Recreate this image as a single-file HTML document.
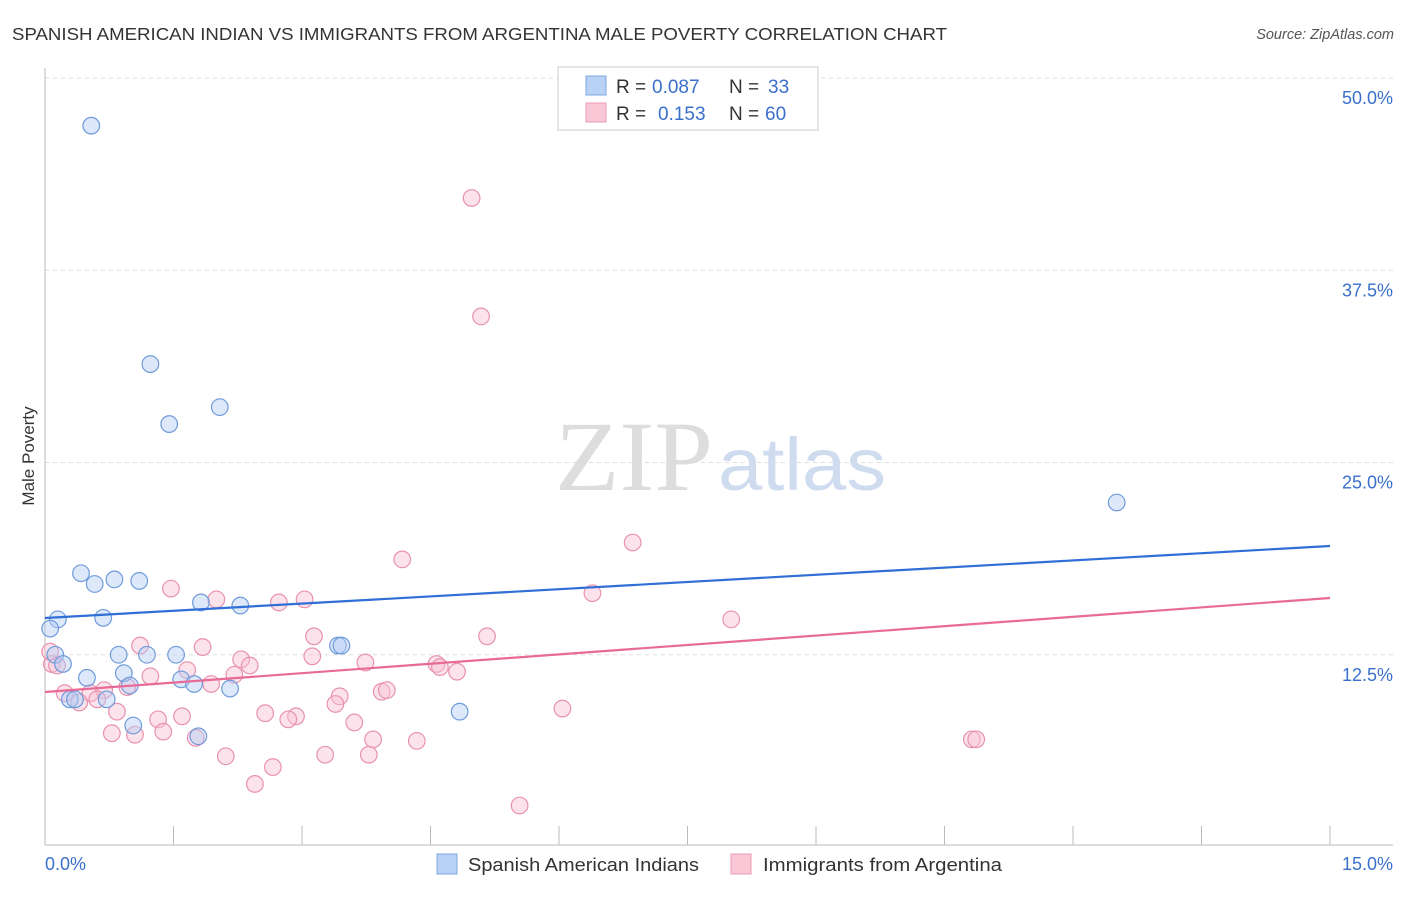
<!DOCTYPE html>
<html><head><meta charset="utf-8">
<style>
body{margin:0;background:#fff;}
</style></head>
<body>
<svg id="chart" width="1406" height="892" xmlns="http://www.w3.org/2000/svg" font-family="Liberation Sans, sans-serif">
<text x="12" y="40" font-size="17.5" fill="#333" textLength="935" lengthAdjust="spacingAndGlyphs">SPANISH AMERICAN INDIAN VS IMMIGRANTS FROM ARGENTINA MALE POVERTY CORRELATION CHART</text>
<text x="1394" y="39" font-size="14.5" fill="#555" font-style="italic" text-anchor="end">Source: ZipAtlas.com</text>
<g>
<text x="555" y="490" font-size="100" fill="#ddd" style="font-family:'Liberation Serif',serif" textLength="158" lengthAdjust="spacingAndGlyphs">ZIP</text>
<text x="718" y="490" font-size="74" fill="#cfdcf0" textLength="168" lengthAdjust="spacingAndGlyphs">atlas</text>
</g>
<g id="grid"></g>
<g id="axes"></g>
<g id="marks"></g>
<text transform="translate(34,456) rotate(-90)" font-size="17" fill="#333" text-anchor="middle">Male Poverty</text>
<g>
<rect x="558" y="67" width="260" height="63" fill="#fff" stroke="#ccc"/>
<rect x="586" y="76" width="20" height="19" fill="#b9d1f5" stroke="#7fa6e0"/>
<rect x="586" y="103" width="20" height="19" fill="#f9c7d6" stroke="#eb9ab4"/>
<text x="616" y="93" font-size="19" fill="#333">R =</text>
<text x="652" y="93" font-size="19" fill="#3a70cc">0.087</text>
<text x="729" y="93" font-size="19" fill="#333">N =</text>
<text x="768" y="93" font-size="19" fill="#3a70cc">33</text>
<text x="616" y="120" font-size="19" fill="#333">R =</text>
<text x="658" y="120" font-size="19" fill="#3a70cc">0.153</text>
<text x="729" y="120" font-size="19" fill="#333">N =</text>
<text x="765" y="120" font-size="19" fill="#3a70cc">60</text>
</g>
<g>
<rect x="437" y="854" width="20" height="20" fill="#b9d1f5" stroke="#7fa6e0"/>
<text x="468" y="871" font-size="18" fill="#333" textLength="231" lengthAdjust="spacingAndGlyphs">Spanish American Indians</text>
<rect x="731" y="854" width="20" height="20" fill="#f9c7d6" stroke="#eb9ab4"/>
<text x="763" y="871" font-size="18" fill="#333" textLength="239" lengthAdjust="spacingAndGlyphs">Immigrants from Argentina</text>
</g>
</svg>
<script>
const blueX=[0.54,1.23,1.45,2.04,12.51,0.42,0.58,0.81,1.10,0.15,0.68,0.06,1.82,2.28,0.12,0.21,0.49,0.86,1.19,1.53,0.92,1.59,1.74,0.99,2.16,3.42,3.46,0.29,0.35,0.72,1.03,1.79,4.84];
const blueY=[46.9,31.4,27.5,28.6,22.4,17.8,17.1,17.4,17.3,14.8,14.9,14.2,15.9,15.7,12.5,11.9,11.0,12.5,12.5,12.5,11.3,10.9,10.6,10.5,10.3,13.1,13.1,9.6,9.6,9.6,7.9,7.2,8.8];
const pinkX=[4.98,5.09,6.86,4.17,6.39,8.01,1.47,2.00,2.73,3.03,5.16,3.14,1.11,1.84,2.29,2.39,3.12,3.74,4.57,4.61,4.81,1.66,2.21,1.23,0.08,0.14,0.06,0.23,0.53,0.69,0.96,1.94,3.93,3.99,3.44,3.39,0.61,0.40,0.84,2.57,2.93,2.84,6.04,1.32,1.60,3.61,0.78,1.05,1.38,1.76,3.83,4.34,10.82,10.87,2.11,3.27,3.78,2.66,2.45,5.54];
const pinkY=[42.2,34.5,19.8,18.7,16.5,14.8,16.8,16.1,15.9,16.1,13.7,13.7,13.1,13.0,12.2,11.8,12.4,12.0,11.9,11.7,11.4,11.5,11.2,11.1,11.9,11.8,12.7,10.0,10.0,10.2,10.4,10.6,10.1,10.2,9.8,9.3,9.6,9.4,8.8,8.7,8.5,8.3,9.0,8.3,8.5,8.1,7.4,7.3,7.5,7.1,7.0,6.9,7.0,7.0,5.9,6.0,6.0,5.2,4.1,2.7];
const blueTrend=[14.89,19.57];
const pinkTrend=[10.08,16.19];
const yTicks=[12.5,25.0,37.5,50.0];
const yTickLabels=["12.5%","25.0%","37.5%","50.0%"];
const xTickLabels=["0.0%","15.0%"];

const NS="http://www.w3.org/2000/svg";
const X=v=>45+v/15*1285;
const Y=v=>847-v*15.38;
function mk(tag,attrs,parent){const e=document.createElementNS(NS,tag);for(const k in attrs)e.setAttribute(k,attrs[k]);parent.appendChild(e);return e;}
const grid=document.getElementById('grid'),axes=document.getElementById('axes'),marks=document.getElementById('marks');
yTicks.forEach((t,i)=>{
  const l=mk('line',{x1:45,x2:1393,y1:Y(t),y2:Y(t),stroke:'#ddd','stroke-dasharray':'4,4'},grid);
  
  
  const tx=mk('text',{x:1393,y:Y(t)+26,'font-size':18,fill:'#3a70cc','text-anchor':'end'},axes);
  
  
  tx.textContent=yTickLabels[i];
});
mk('line',{x1:45,x2:45,y1:68,y2:845,stroke:'#bbb'},axes);
mk('line',{x1:45,x2:1393,y1:845,y2:845,stroke:'#bbb'},axes);
for(let i=1;i<=10;i++){const x=X(i*1.5);const t=mk('line',{x1:x,x2:x,y1:826,y2:845,stroke:'#bbb'},axes);
  
  }
const xl0=mk('text',{x:45,y:870,'font-size':18,fill:'#3a70cc'},axes);


xl0.textContent=xTickLabels[0];
const xl1=mk('text',{x:1393,y:870,'font-size':18,fill:'#3a70cc','text-anchor':'end'},axes);


xl1.textContent=xTickLabels[1];
function dots(xs,ys,fill,stroke,name){xs.forEach((x,i)=>{const c=mk('circle',{cx:X(x),cy:Y(ys[i]),r:8.3,fill:fill,stroke:stroke,'stroke-width':1.2,'fill-opacity':0.45},marks);
  
  });}
dots(pinkX,pinkY,'#f9c0d2','#e892ae','point-argentina');
dots(blueX,blueY,'#b3cdf3','#6f9bdb','point-spanish');
const bl=mk('line',{x1:X(0),x2:X(15),y1:Y(blueTrend[0]),y2:Y(blueTrend[1]),stroke:'#2f6fd6','stroke-width':2.2},marks);


const pl=mk('line',{x1:X(0),x2:X(15),y1:Y(pinkTrend[0]),y2:Y(pinkTrend[1]),stroke:'#e86a96','stroke-width':2.2},marks);


</script>
</body></html>
